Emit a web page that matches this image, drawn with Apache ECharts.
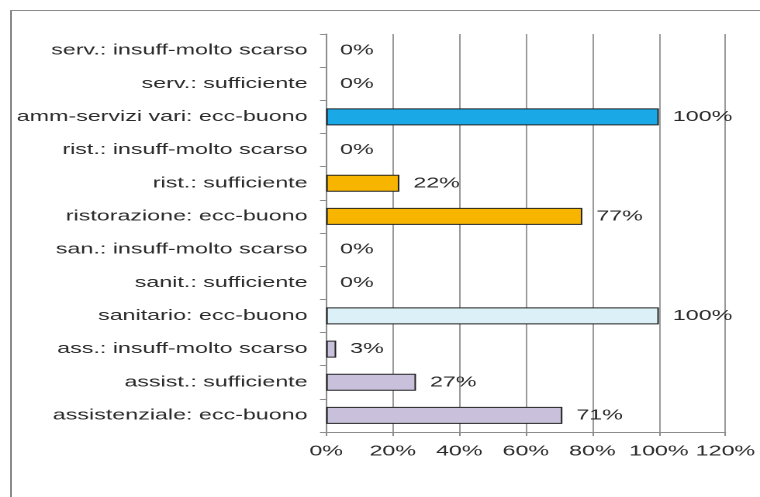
<!DOCTYPE html>
<html>
<head>
<meta charset="utf-8">
<script src="https://cdn.jsdelivr.net/npm/echarts@6/dist/echarts.min.js"></script>
<style>
html,body{margin:0;padding:0;background:#fff;overflow:hidden;width:760px;height:497px;}
#wrap{width:760px;height:497px;overflow:hidden;position:relative;background:#fff;}
#fTop{position:absolute;left:10px;top:10px;width:750px;height:0;border-top:1.5px solid #8c8c8c;}
#fLeft{position:absolute;left:10px;top:10px;width:0;height:487px;border-left:2px solid #8c8c8c;}
#chart{width:490px;height:497px;transform:scaleX(1.551);transform-origin:0 0;position:absolute;left:0;top:0;}
</style>
</head>
<body>
<div id="wrap"><div id="fTop"></div><div id="fLeft"></div><div id="chart"></div></div>
<script>
// categories listed bottom to top
const categories = [
  'assistenziale: ecc-buono',
  'assist.: sufficiente',
  'ass.: insuff-molto scarso',
  'sanitario: ecc-buono',
  'sanit.: sufficiente',
  'san.: insuff-molto scarso',
  'ristorazione: ecc-buono',
  'rist.: sufficiente',
  'rist.: insuff-molto scarso',
  'amm-servizi vari: ecc-buono',
  'serv.: sufficiente',
  'serv.: insuff-molto scarso'
];
const values = [71, 27, 3, 100, 0, 0, 77, 22, 0, 100, 0, 0];
const groupOf = [0, 0, 0, 1, 1, 1, 2, 2, 2, 3, 3, 3];
const xTicks = { min: 0, max: 120, step: 20 };

const groupColors = ['#c9c0db', '#dcf1f7', '#f7b500', '#1aa9e6'];

const chart = echarts.init(document.getElementById('chart'), null, { renderer: 'canvas', devicePixelRatio: 2 });
const font = 'Liberation Sans, Arial, sans-serif';

const seriesData = values.map((v, i) => ({
  value: v,
  itemStyle: {
    color: groupColors[groupOf[i]],
    borderColor: '#222',
    borderWidth: v > 0 ? 1 : 0
  }
}));

chart.setOption({
  animation: false,
  grid: { left: 210.3, right: 22.3, top: 34, bottom: 65, containLabel: false },
  xAxis: {
    type: 'value',
    min: xTicks.min,
    max: xTicks.max,
    interval: xTicks.step,
    axisLine: { show: true, lineStyle: { color: '#8c8c8c', width: 1 } },
    axisTick: { show: true, length: 4, lineStyle: { color: '#8c8c8c' } },
    splitLine: { show: true, lineStyle: { color: '#9a9a9a', width: 1 } },
    axisLabel: {
      formatter: '{value}%',
      color: '#2a2a2a',
      fontFamily: font,
      fontSize: 15,
      margin: 12
    }
  },
  yAxis: {
    type: 'category',
    data: categories,
    axisLine: { show: true, lineStyle: { color: '#8c8c8c', width: 1 } },
    axisTick: { show: true, length: 4, inside: false, lineStyle: { color: '#8c8c8c' } },
    splitLine: { show: false },
    axisLabel: {
      color: '#2a2a2a',
      fontFamily: font,
      fontSize: 15,
      margin: 12,
      interval: 0
    }
  },
  series: [{
    type: 'bar',
    data: seriesData,
    barWidth: 17,
    label: {
      show: true,
      position: 'right',
      distance: 9,
      formatter: '{c}%',
      color: '#2a2a2a',
      fontFamily: font,
      fontSize: 15
    }
  }]
});
</script>
</body>
</html>
